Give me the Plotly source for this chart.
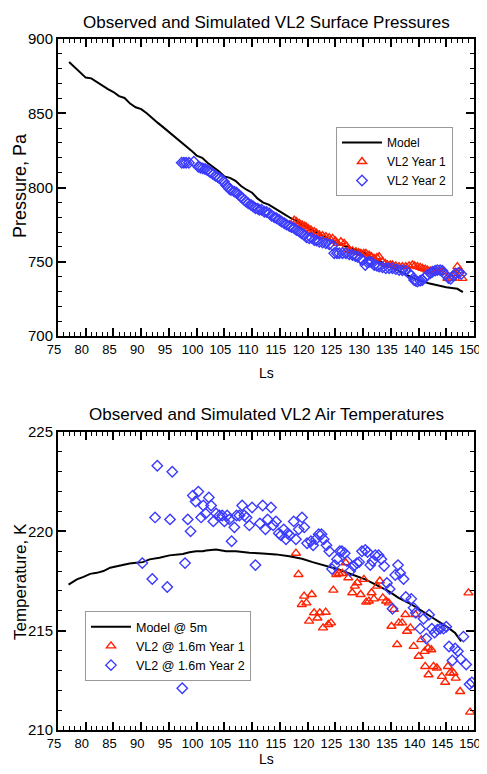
import plotly.graph_objects as go

# ---------------- Top panel: surface pressure ----------------
model_p_ls = [77, 78, 79, 80, 81, 82, 83, 84, 85, 86, 87, 88, 89, 90, 91, 92, 93, 94, 95, 96,
              97, 98, 99, 100, 101, 102, 103, 104, 105, 106, 107, 108, 109, 110, 111, 112, 113,
              114, 115, 116, 117, 118, 119, 120, 121, 122, 123, 124, 125, 126, 127, 128, 129,
              130, 131, 132, 133, 134, 135, 136, 137, 138, 139, 140, 141, 142, 143, 144, 145,
              146, 147, 148]
model_p = [884.5, 881.0, 877.8, 874.0, 873.5, 871.0, 868.5, 866.2, 864.3, 861.5, 860.3, 856.5,
           854.0, 852.8, 850.0, 846.5, 843.5, 840.5, 837.5, 834.0, 831.5, 828.0, 825.0, 821.5,
           820.0, 816.5, 813.8, 811.0, 807.5, 806.5, 804.5, 801.0, 798.5, 796.5, 792.5, 789.8,
           788.5, 786.0, 783.5, 781.5, 779.3, 777.5, 775.0, 773.0, 770.5, 768.5, 766.5, 764.5,
           763.0, 761.5, 760.0, 758.5, 757.5, 756.5, 754.0, 752.0, 750.5, 748.0, 746.5, 744.8,
           743.0, 741.0, 739.0, 737.5, 736.5, 735.3, 734.3, 733.3, 732.8, 732.3, 731.8, 729.5]

yr1_p_ls = [117.6, 118.0, 118.5, 119.0, 119.4, 119.7, 120.1, 120.6, 121.2, 121.6, 122.1, 122.7,
            123.3, 123.9, 124.5, 125.0, 125.4, 126.0, 126.6, 127.0, 127.5, 128.1, 128.7, 129.2,
            129.6, 130.1, 130.5, 131.1, 131.5, 132.0, 132.5, 132.9, 133.5, 134.0, 134.4, 134.9,
            135.3, 135.9, 136.5, 137.1, 137.7, 138.3, 138.9, 139.3, 139.8, 140.3, 140.7, 141.2,
            141.6, 142.1, 142.5, 143.1, 143.7, 144.2, 144.6, 145.2, 145.7, 146.1, 146.6, 147.0,
            147.5, 147.9]
yr1_p = [778.0, 777.0, 775.9, 774.8, 774.0, 773.6, 772.5, 771.4, 770.3, 769.2, 768.0, 767.5,
         766.9, 766.2, 765.8, 764.0, 762.4, 763.5, 762.4, 760.5, 757.9, 757.3, 756.8, 756.2,
         755.7, 755.7, 755.7, 754.5, 753.5, 752.3, 752.8, 753.4, 750.0, 748.9, 747.8, 747.8,
         747.8, 747.2, 746.7, 746.7, 746.7, 747.2, 747.8, 747.2, 746.7, 746.2, 745.6, 745.0,
         744.4, 743.8, 743.3, 743.3, 743.3, 743.3, 743.3, 738.8, 738.8, 738.8, 742.0, 746.7,
         744.0, 738.8]

yr2_p_ls = [97.3, 97.7, 98.1, 98.6, 99.5, 100.3, 100.7, 101.1, 101.5, 101.9, 102.3, 102.6,
            103.0, 103.4, 103.8, 104.1, 104.5, 104.9, 105.3, 105.6, 105.9, 106.2, 106.8, 107.2,
            107.6, 108.0, 108.3, 108.6, 108.9, 109.3, 109.8, 110.2, 110.6, 111.0, 111.3, 111.7,
            112.2, 112.6, 113.1, 113.5, 114.0, 114.4, 114.9, 115.3, 115.8, 116.2, 116.7, 117.1,
            117.6, 118.0, 118.5, 118.9, 119.4, 119.8, 120.3, 120.7, 121.2, 121.6, 122.1, 122.7,
            123.3, 123.9, 124.5, 124.8, 125.3, 125.7, 126.3, 126.9, 127.5, 128.1, 128.6, 129.0,
            129.5, 129.9, 130.4, 130.8, 131.1, 131.5, 132.0, 132.5, 132.9, 133.5, 134.1, 134.7,
            135.3, 135.9, 136.5, 137.1, 137.7, 138.2, 138.6, 139.2, 139.5, 139.8, 140.3, 140.7,
            141.2, 141.6, 142.1, 142.5, 143.0, 143.4, 143.9, 144.3, 144.9, 145.4, 145.8, 146.3,
            146.7, 147.2, 147.7]
yr2_p = [816.7, 816.7, 816.7, 816.7, 817.3, 814.0, 813.3, 812.9, 812.5, 811.8, 810.8, 810.0,
         808.9, 807.8, 807.0, 806.2, 805.2, 804.0, 801.5, 800.6, 799.0, 798.3, 797.2, 796.5,
         795.0, 793.6, 792.7, 791.5, 790.5, 789.3, 788.2, 787.2, 786.0, 785.8, 784.9, 785.0,
         783.7, 783.5, 782.6, 781.0, 779.9, 779.3, 778.1, 777.0, 775.9, 775.0, 774.1, 773.3,
         772.5, 771.3, 770.3, 769.2, 768.0, 766.5, 765.8, 766.2, 764.6, 764.2, 763.5, 763.0,
         762.4, 761.8, 761.0, 755.7, 755.7, 755.7, 755.7, 755.7, 755.0, 754.5, 753.9, 753.4,
         752.3, 751.2, 747.8, 749.5, 750.0, 749.8, 747.8, 747.2, 746.7, 746.2, 745.6, 745.6,
         745.6, 745.0, 744.4, 744.2, 744.0, 742.5, 741.1, 737.7, 737.2, 736.6, 737.2, 737.7,
         739.5, 741.1, 742.2, 743.3, 744.0, 744.4, 744.4, 744.0, 741.1, 739.0, 738.5, 740.5,
         742.2, 742.5, 741.7]

# ---------------- Bottom panel: air temperature ----------------
model_t_ls = [76.9, 78.4, 79.6, 80.8, 82.0, 83.2, 84.4, 85.6, 86.7, 87.9, 89.1, 90.3, 91.5,
              93.3, 95.1, 96.3, 97.5, 98.7, 99.9, 101.1, 101.7, 103.5, 105.3, 107.1, 109.5,
              111.9, 114.3, 116.7, 119.0, 120.9, 123.3, 125.6, 128.0, 130.4, 132.8, 134.6,
              136.4, 138.8, 141.2, 143.6, 145.4, 146.6, 147.7]
model_t = [217.32, 217.58, 217.71, 217.86, 217.91, 218.00, 218.17, 218.25, 218.33, 218.38,
           218.42, 218.45, 218.59, 218.67, 218.79, 218.84, 218.86, 218.95, 219.00, 219.00,
           219.04, 219.09, 219.00, 219.00, 218.92, 218.89, 218.84, 218.75, 218.62, 218.45,
           218.25, 218.08, 217.83, 217.58, 217.24, 216.99, 216.65, 216.31, 215.89, 215.47,
           215.14, 214.88, 214.46]

yr1_t_ls = [117.9, 118.35, 118.95, 119.37, 119.79, 120.27, 120.75, 121.17, 121.77, 122.19,
            122.78, 123.26, 123.74, 124.22, 124.64, 125.18, 125.66, 126.26, 126.86, 127.34,
            128.05, 128.53, 128.95, 129.55, 130.15, 130.57, 131.05, 131.53, 131.95, 132.54,
            133.02, 133.56, 134.16, 134.64, 135.12, 135.54, 136.14, 136.44, 137.04, 137.63,
            137.93, 138.53, 139.13, 139.43, 140.03, 140.51, 141.11, 141.2, 141.71, 141.8,
            142.3, 142.7, 143.3, 144.2, 144.8, 145.3, 145.7, 146.3, 146.7, 147.5, 149.0, 149.3]
yr1_t = [218.9, 217.83, 216.32, 216.74, 216.40, 215.48, 216.82, 215.90, 215.64, 215.90,
         215.14, 215.93, 215.31, 215.39, 217.04, 217.83, 217.88, 217.88, 218.42, 217.66,
         216.91, 217.24, 217.41, 216.82, 217.58, 216.44, 216.49, 216.91, 216.60, 217.24,
         217.50, 216.65, 216.49, 216.40, 215.22, 216.07, 214.30, 215.39, 215.39, 215.81,
         214.97, 215.14, 214.21, 215.81, 213.71, 214.55, 213.96, 213.20, 214.13, 212.78,
         214.04, 213.20, 213.12, 212.70, 212.40, 213.20, 212.87, 212.87, 212.61, 211.94,
         216.90, 210.90]

yr2_t_ls = [90.2, 92.0, 92.5, 92.9, 94.7, 95.2, 95.6, 97.4, 97.9, 98.4, 98.9, 99.3, 99.8,
            100.3, 100.8, 101.2, 101.6, 102.2, 102.6, 103.0, 103.5, 104.1, 104.6, 105.0, 105.5,
            105.9, 106.3, 106.8, 107.2, 107.7, 108.2, 108.6, 109.0, 109.5, 110.0, 110.6, 111.4,
            111.9, 112.4, 112.8, 113.4, 113.8, 114.3, 114.8, 115.2, 115.7, 116.1, 116.4, 116.8,
            117.5, 117.9, 118.4, 119.0, 119.4, 119.9, 120.6, 121.0, 121.5, 122.0, 122.5, 122.9,
            123.4, 123.9, 124.4, 124.9, 125.3, 125.8, 126.2, 126.7, 127.1, 127.7, 128.3, 128.9,
            129.3, 129.8, 130.4, 130.8, 131.3, 131.7, 132.2, 132.8, 133.3, 133.8, 134.3, 134.8,
            135.3, 135.8, 136.3, 136.7, 137.3, 137.7, 138.7, 139.1, 139.5, 140.3, 140.9, 141.4,
            141.9, 142.4, 142.9, 143.4, 143.9, 144.5, 145.0, 145.5, 146.1, 146.6, 147.1, 147.6,
            148.1, 148.6, 149.2, 149.6]
yr2_t = [218.4, 217.6, 220.7, 223.3, 217.2, 220.6, 223.0, 212.1, 218.4, 220.6, 220.0, 221.8,
         221.5, 222.0, 220.7, 221.3, 220.9, 221.7, 221.3, 220.5, 220.9, 220.8, 220.8, 220.5,
         220.8, 220.6, 219.5, 220.2, 220.8, 220.8, 221.3, 220.8, 220.7, 220.3, 221.2, 218.3,
         220.4, 221.3, 220.1, 220.6, 221.2, 220.3, 220.5, 219.9, 219.8, 220.1, 219.6, 219.9,
         219.8, 220.5, 219.6, 220.1, 220.7, 220.2, 219.4, 219.5, 219.3, 219.6, 219.85, 219.85,
         219.6, 219.3, 219.0, 218.1, 218.3, 218.6, 219.0, 219.0, 218.9, 218.5, 218.0, 218.25,
         218.4, 218.45, 219.0, 219.06, 218.96, 218.3, 218.5, 218.8, 218.8, 218.6, 218.25,
         217.4, 217.1, 216.1, 217.8, 218.3, 217.9, 217.6, 216.7, 216.6, 216.15, 215.9, 215.1,
         215.6, 214.6, 215.8, 215.1, 214.9, 215.05, 215.1, 215.1, 215.2, 214.2, 213.5, 214.1,
         213.96, 213.57, 214.7, 213.3, 212.3, 212.4]

RED = "#ff2200"
BLUE = "#3a3aff"
FONT = "Liberation Sans, Arial, Helvetica, sans-serif"

fig = go.Figure()

mk_tri = dict(symbol="triangle-up-open", size=8, color=RED, line=dict(width=1.4))
mk_dia = dict(symbol="diamond-open", size=8, color=BLUE, line=dict(width=1.4))

fig.add_trace(go.Scatter(x=model_p_ls, y=model_p, mode="lines", name="Model",
                         line=dict(color="black", width=2), xaxis="x", yaxis="y", legend="legend"))
fig.add_trace(go.Scatter(x=yr1_p_ls, y=yr1_p, mode="markers", name="VL2 Year 1",
                         marker=mk_tri, xaxis="x", yaxis="y", legend="legend"))
fig.add_trace(go.Scatter(x=yr2_p_ls, y=yr2_p, mode="markers", name="VL2 Year 2",
                         marker=mk_dia, xaxis="x", yaxis="y", legend="legend"))

fig.add_trace(go.Scatter(x=model_t_ls, y=model_t, mode="lines", name="Model @ 5m",
                         line=dict(color="black", width=2), xaxis="x2", yaxis="y2", legend="legend2"))
fig.add_trace(go.Scatter(x=yr1_t_ls, y=yr1_t, mode="markers", name="VL2 @ 1.6m Year 1",
                         marker=mk_tri, xaxis="x2", yaxis="y2", legend="legend2"))
fig.add_trace(go.Scatter(x=yr2_t_ls, y=yr2_t, mode="markers", name="VL2 @ 1.6m Year 2",
                         marker=mk_dia, xaxis="x2", yaxis="y2", legend="legend2"))

# the page body adds an 8 px margin; keep the figure inside the window so no scrollbar appears
OFF = 8
W, H = 487 - OFF, 774 - 2 * OFF
def px_x(v):
    return (v - OFF) / W
def px_y(v):
    return 1 - (v - OFF) / H

def xaxis_style(anchor):
    return dict(range=[75, 150], tick0=75, dtick=5, ticks="inside", ticklen=8, tickwidth=1.5,
                tickcolor="black", minor=dict(ticks="inside", dtick=1, ticklen=4, tickwidth=1,
                                              tickcolor="black"),
                showline=True, linewidth=2, linecolor="black", mirror="allticks",
                showgrid=False, zeroline=False, anchor=anchor, automargin=False, tickangle=0,
                ticklabeloverflow="allow", ticklabelshift=-4,
                domain=[px_x(58), px_x(474)],
                tickfont=dict(family=FONT, size=13, color="black"))

def yaxis_style(anchor, rng, dt, mdt, top, bottom):
    return dict(range=rng, tick0=rng[0], dtick=dt, ticks="inside", ticklen=8, tickwidth=1.5,
                tickcolor="black", minor=dict(ticks="inside", dtick=mdt, ticklen=4, tickwidth=1,
                                              tickcolor="black"),
                showline=True, linewidth=2, linecolor="black", mirror="allticks",
                showgrid=False, zeroline=False, anchor=anchor, automargin=False,
                domain=[px_y(bottom), px_y(top)],
                tickfont=dict(family=FONT, size=15, color="black"))

fig.update_layout(
    width=W, height=H,
    margin=dict(l=0, r=0, t=0, b=0, autoexpand=False),
    paper_bgcolor="white", plot_bgcolor="white",
    showlegend=True,
    xaxis=xaxis_style("y"),
    yaxis=yaxis_style("x", [700, 900], 50, 10, 39, 336),
    xaxis2=xaxis_style("y2"),
    yaxis2=yaxis_style("x2", [210, 225], 5, 1, 432, 730),
    legend=dict(x=px_x(336), y=px_y(127), xanchor="left", yanchor="top",
                bgcolor="white", bordercolor="#999999", borderwidth=1,
                font=dict(family=FONT, size=12, color="black"),
                itemwidth=40, tracegroupgap=0),
    legend2=dict(x=px_x(85), y=px_y(611), xanchor="left", yanchor="top",
                 bgcolor="white", bordercolor="#999999", borderwidth=1,
                 font=dict(family=FONT, size=12.5, color="black"),
                 itemwidth=40, tracegroupgap=0),
    annotations=[
        dict(text="Observed and Simulated VL2 Surface Pressures", x=px_x(266), y=px_y(22),
             xref="paper", yref="paper", showarrow=False, xanchor="center", yanchor="middle",
             font=dict(family=FONT, size=17, color="black")),
        dict(text="Observed and Simulated VL2 Air Temperatures", x=px_x(266), y=px_y(414),
             xref="paper", yref="paper", showarrow=False, xanchor="center", yanchor="middle",
             font=dict(family=FONT, size=17, color="black")),
        dict(text="Ls", x=px_x(266), y=px_y(373), xref="paper", yref="paper", showarrow=False,
             xanchor="center", yanchor="middle", font=dict(family=FONT, size=14, color="black")),
        dict(text="Ls", x=px_x(266), y=px_y(759), xref="paper", yref="paper", showarrow=False,
             xanchor="center", yanchor="middle", font=dict(family=FONT, size=14, color="black")),
        dict(text="Pressure, Pa", x=px_x(20), y=px_y(186), xref="paper", yref="paper",
             showarrow=False, textangle=-90, xanchor="center", yanchor="middle",
             font=dict(family=FONT, size=18, color="black")),
        dict(text="Temperature, K", x=px_x(20), y=px_y(582), xref="paper", yref="paper",
             showarrow=False, textangle=-90, xanchor="center", yanchor="middle",
             font=dict(family=FONT, size=17, color="black")),
    ],
)

fig.write_html("out.html")
